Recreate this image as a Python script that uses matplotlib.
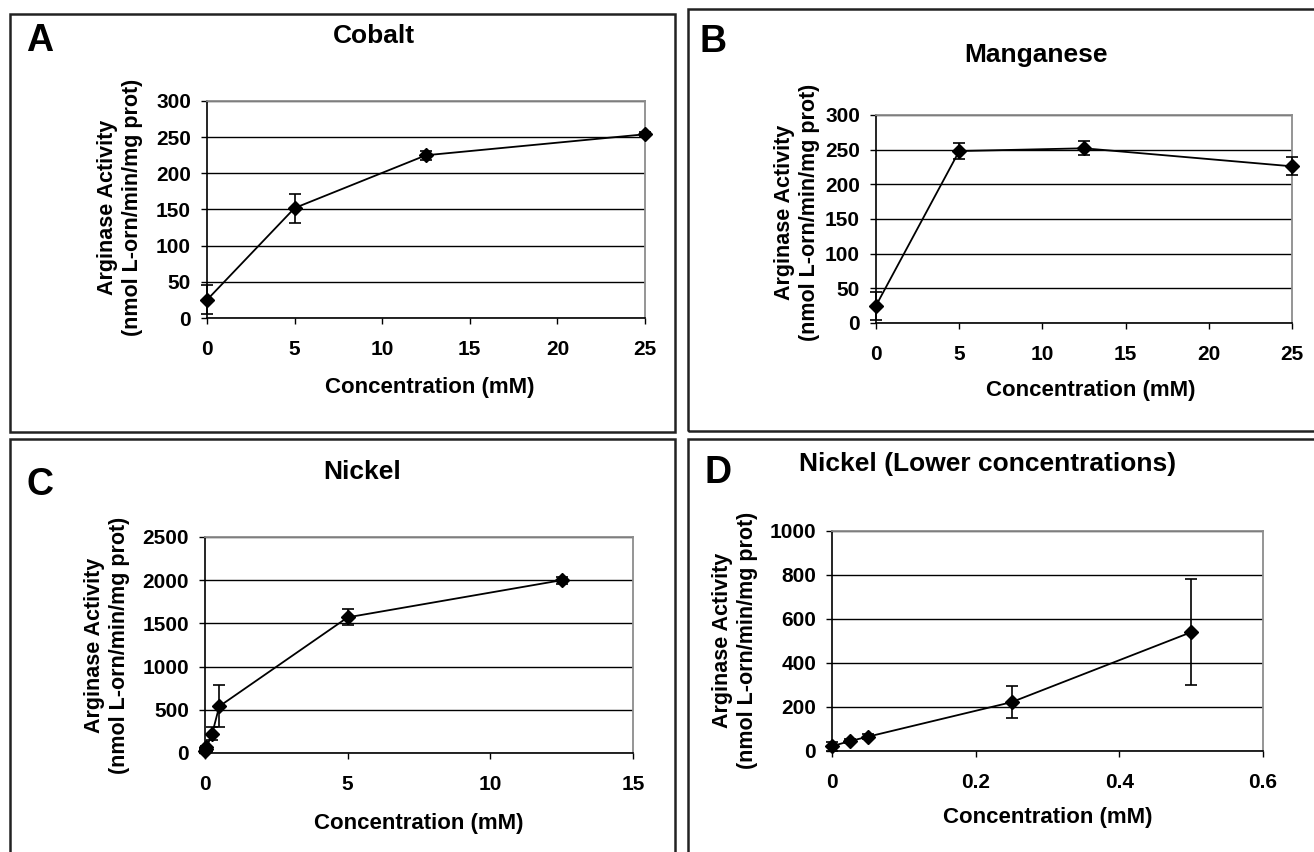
import numpy as np
import matplotlib.pyplot as plt
from matplotlib.patches import Rectangle

plt.rcParams['font.family'] = ['Liberation Sans', 'DejaVu Sans']
plt.rcParams['font.weight'] = 'bold'

W, H = 1314, 852

# Panel A - cobalt
cobalt_x = [0, 5, 12.5, 25]
cobalt_y = [25, 152, 225, 254]
cobalt_err = [20, 20, 6, 3]

# Panel B - manganese
mn_x = [0, 5, 12.5, 25]
mn_y = [25, 248, 252, 226]
mn_err = [20, 12, 10, 13]

# Panel C - nickel
ni_x = [0, 0.025, 0.05, 0.25, 0.5, 5, 12.5]
ni_y = [22, 45, 65, 222, 540, 1570, 2000]
ni_err = [20, 8, 12, 74, 242, 92, 40]

# Panel D - nickel, lower concentrations
nilow_x = [0, 0.025, 0.05, 0.25, 0.5]
nilow_y = [22, 45, 65, 222, 540]
nilow_err = [20, 8, 12, 74, 242]

ylab = 'Arginase Activity\n(nmol L-orn/min/mg prot)'
xlab = 'Concentration (mM)'

fig = plt.figure(figsize=(W / 100, H / 100), dpi=100)


def fx(x):
    return x / W


def fy(y):
    return 1 - y / H


def make_axes(left, top, right, bottom):
    # pixel box -> figure fraction
    return fig.add_axes([fx(left), fy(bottom), (right - left) / W, (bottom - top) / H])


def draw_panel(ax, x, y, err, xticks, yticks):
    ax.errorbar(x, y, yerr=err, fmt='-D', color='black', ms=7.5, lw=1.3,
                elinewidth=1.2, capsize=4.5, capthick=1.2, clip_on=False, zorder=5)
    ax.set_xlim(xticks[0], xticks[-1])
    ax.set_ylim(yticks[0], yticks[-1])
    ax.set_xticks(xticks)
    ax.set_yticks(yticks)
    ax.set_axisbelow(True)
    ax.yaxis.grid(True, color='black', lw=1.0)
    for s in ['top', 'right']:
        ax.spines[s].set_color('#8c8c8c')
        ax.spines[s].set_linewidth(1.3)
    for s in ['left', 'bottom']:
        ax.spines[s].set_color('black')
        ax.spines[s].set_linewidth(1.2)
    ax.tick_params(direction='out', length=4.5, width=1.0, labelsize=15, color='black')
    ax.tick_params(axis='y', pad=7)
    ax.tick_params(axis='x', pad=11)
    for lab in ax.get_xticklabels() + ax.get_yticklabels():
        lab.set_fontweight('bold')


def label(x, y, s, size, **kw):
    fig.text(fx(x), fy(y), s, ha='center', va='center', fontsize=size,
             fontweight='bold', **kw)


# panel frames
frames = [(10, 14, 675, 432), (688, 9, W + 10, 431),
          (10, 439, 675, H + 10), (688, 439, W + 10, H + 10)]
for l, t, r, b in frames:
    fig.add_artist(Rectangle((fx(l), fy(b)), (r - l) / W, (b - t) / H,
                             transform=fig.transFigure, fill=False,
                             ec='#222222', lw=1.8))

axA = make_axes(207, 101, 645, 318)
draw_panel(axA, cobalt_x, cobalt_y, cobalt_err, [0, 5, 10, 15, 20, 25],
           [0, 50, 100, 150, 200, 250, 300])
axB = make_axes(876, 115, 1292, 323)
draw_panel(axB, mn_x, mn_y, mn_err, [0, 5, 10, 15, 20, 25],
           [0, 50, 100, 150, 200, 250, 300])
axC = make_axes(205, 537, 633, 753)
draw_panel(axC, ni_x, ni_y, ni_err, [0, 5, 10, 15],
           [0, 500, 1000, 1500, 2000, 2500])
axD = make_axes(832, 531, 1263, 751)
draw_panel(axD, nilow_x, nilow_y, nilow_err, [0, 0.2, 0.4, 0.6],
           [0, 200, 400, 600, 800, 1000])
axD.set_xticklabels(['0', '0.2', '0.4', '0.6'])

# panel letters
label(40, 41, 'A', 27)
label(713, 42, 'B', 27)
label(40, 485, 'C', 27)
label(718, 473, 'D', 27)

# titles
label(374, 36, 'Cobalt', 19)
label(1036, 55, 'Manganese', 19)
label(362, 472, 'Nickel', 19)
label(988, 464, 'Nickel (Lower concentrations)', 19)

# x labels
label(430, 388, xlab, 16)
label(1091, 390, xlab, 16)
label(419, 823, xlab, 16)
label(1048, 818, xlab, 16)

# y labels
yl_kw = dict(rotation=90, multialignment='center', linespacing=1.2)
label(120, 207, ylab, 15.5, **yl_kw)
label(797, 212, ylab, 15.5, **yl_kw)
label(107, 645, ylab, 15.5, **yl_kw)
label(735, 640, ylab, 15.5, **yl_kw)

fig.savefig('out.png', dpi=100, facecolor='white')
